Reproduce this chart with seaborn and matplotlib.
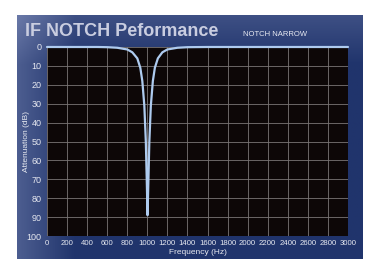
import numpy as np
import pandas as pd
import matplotlib
matplotlib.use('Agg')
import matplotlib.pyplot as plt
import seaborn as sns
from matplotlib.colors import LinearSegmentedColormap

# notch response
freq_hz = [0, 500, 600, 700, 800, 850, 900, 930, 950, 970, 985, 995, 1002,
           1010, 1020, 1035, 1055, 1075, 1105, 1150, 1200, 1300, 1400, 1600, 3000]
atten_db = [0, 0, 0.1, 0.4, 1.3, 2.8, 6.0, 11.0, 18.0, 31.0, 50.0, 72.0, 89.0,
            72.0, 50.0, 31.0, 18.0, 11.0, 6.0, 2.8, 1.3, 0.4, 0.1, 0, 0]
x_ticks = list(range(0, 3001, 200))
y_ticks = list(range(0, 101, 10))

df = pd.DataFrame({'freq': freq_hz, 'atten': atten_db})

sns.set_style('white')
plt.rcParams['font.family'] = ['Liberation Sans', 'DejaVu Sans']

W, H = 372, 259
fig = plt.figure(figsize=(W / 100, H / 100), dpi=100)
fig.patch.set_facecolor('white')

# blue panel with a soft gradient (lighter at the upper left)
bg = fig.add_axes([17 / W, 0, (363 - 17) / W, (H - 15) / H])
gx = np.linspace(0, 1, 200)
gy = np.linspace(0, 1, 150)
GX, GY = np.meshgrid(gx, gy)
shade = np.clip(1 - 6 * GX, 0, 1) * 0.6 + np.clip(1 - 5 * GY, 0, 1) * 0.4
cmap = LinearSegmentedColormap.from_list('panel', ['#20346c', '#6a79a8'])
bg.imshow(shade, cmap=cmap, aspect='auto', extent=[0, 1, 0, 1], origin='upper', vmin=0, vmax=1)
bg.axis('off')

fig.text(25 / W, 1 - 31 / H, 'IF NOTCH Peformance', color='#c9cde0', fontsize=13,
         fontweight='bold', va='center', ha='left')
fig.text(243 / W, 1 - 35 / H, 'NOTCH NARROW', color='#e8eaf2', fontsize=5.5,
         va='center', ha='left')

ax = fig.add_axes([47 / W, 1 - 236 / H, (348 - 47) / W, (236 - 47) / H])
ax.set_facecolor('#0d0707')
sns.lineplot(data=df, x='freq', y='atten', ax=ax, color='#aecbef', linewidth=1.6,
             clip_on=False)
ax.set_xlim(0, 3000)
ax.set_ylim(100, 0)
ax.set_xticks(x_ticks)
ax.set_yticks(y_ticks)
ax.grid(True, color='#7a7676', linewidth=0.6)
ax.tick_params(colors='#e6e8f0', length=0)
ax.tick_params(axis='x', labelsize=5.6, pad=3)
ax.tick_params(axis='y', labelsize=6.5, pad=4)
for s in ax.spines.values():
    s.set_visible(False)
ax.set_xlabel('Frequency (Hz)', color='#e6e8f0', fontsize=6, labelpad=1)
ax.set_ylabel('Attenuation (dB)', color='#e6e8f0', fontsize=6)
ax.yaxis.set_label_coords(-0.055, 0.5)

fig.savefig('out.png', dpi=100)
